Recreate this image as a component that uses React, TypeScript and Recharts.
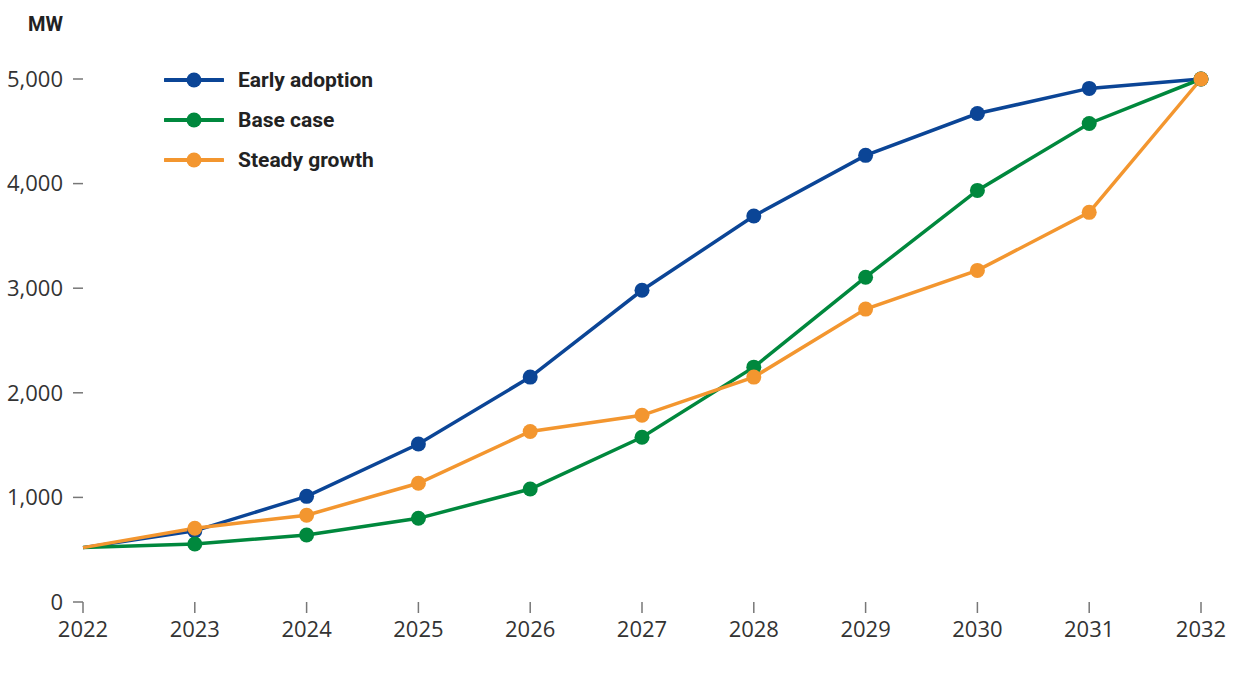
import React from 'react';
import { LineChart, Line, XAxis, YAxis } from 'recharts';

const YEARS = ['2022', '2023', '2024', '2025', '2026', '2027', '2028', '2029', '2030', '2031', '2032'];
const EARLY_ADOPTION = [520, 680, 1010, 1510, 2150, 2980, 3690, 4270, 4670, 4910, 5000];
const BASE_CASE = [520, 555, 640, 800, 1080, 1575, 2245, 3105, 3935, 4575, 5000];
const STEADY_GROWTH = [520, 705, 830, 1135, 1630, 1785, 2150, 2800, 3170, 3725, 5000];
const Y_TICKS = [0, 1000, 2000, 3000, 4000, 5000];

const SERIES = [
  { key: 'early', name: 'Early adoption', color: '#0b4596', values: EARLY_ADOPTION },
  { key: 'base', name: 'Base case', color: '#00883d', values: BASE_CASE },
  { key: 'steady', name: 'Steady growth', color: '#f3962f', values: STEADY_GROWTH },
];

const data = YEARS.map((year, i) => ({
  year,
  early: EARLY_ADOPTION[i],
  base: BASE_CASE[i],
  steady: STEADY_GROWTH[i],
}));

const TICK_FONT = { fontFamily: 'Open Sans', fontSize: 22, fill: '#333' };

// skip the marker at the first year, like the original
const makeDot = (color: string) => (props: any) => {
  const { cx, cy, index } = props;
  if (index === 0 || cx == null || cy == null) return <g key={`d-${index}`} />;
  return <circle key={`d-${index}`} cx={cx} cy={cy} r={7.5} fill={color} stroke="none" />;
};

const ChartLegend = () => (
  <div
    style={{
      position: 'absolute',
      left: 164,
      top: 60,
      fontFamily: 'Roboto',
      fontWeight: 700,
      fontSize: 21,
      color: '#222',
    }}
  >
    {SERIES.map((s) => (
      <div key={s.key} style={{ display: 'flex', alignItems: 'center', height: 40 }}>
        <svg width={60} height={16} style={{ marginRight: 14 }}>
          <line x1={1} y1={8} x2={59} y2={8} stroke={s.color} strokeWidth={4} strokeLinecap="round" />
          <circle cx={30} cy={8} r={7.5} fill={s.color} />
        </svg>
        <span>{s.name}</span>
      </div>
    ))}
  </div>
);

const App: React.FC = () => {
  return (
    <div style={{ position: 'absolute', left: 0, top: 0, width: 1237, height: 673, background: '#fff' }}>
      <LineChart width={1237} height={673} data={data} margin={{ top: 79, right: 36, bottom: 41, left: 0 }}>
        <XAxis
          dataKey="year"
          height={30}
          axisLine={false}
          tickLine={{ stroke: '#777', strokeWidth: 1.5 }}
          tickSize={11}
          tickMargin={8}
          tick={TICK_FONT}
          interval={0}
        />
        <YAxis
          domain={[0, 5000]}
          ticks={Y_TICKS}
          width={83}
          axisLine={false}
          tickLine={{ stroke: '#777', strokeWidth: 1.5 }}
          tickSize={10}
          tickMargin={10}
          tick={TICK_FONT}
          tickFormatter={(v: number) => v.toLocaleString('en-US')}
        />
        {SERIES.map((s) => (
          <Line
            key={s.key}
            dataKey={s.key}
            name={s.name}
            type="linear"
            stroke={s.color}
            strokeWidth={3.5}
            dot={makeDot(s.color)}
            activeDot={false}
            isAnimationActive={false}
          />
        ))}
      </LineChart>
      <div
        style={{
          position: 'absolute',
          left: 28,
          top: 12,
          fontFamily: 'Roboto',
          fontWeight: 700,
          fontSize: 20,
          color: '#222',
        }}
      >
        MW
      </div>
      <ChartLegend />
    </div>
  );
};

export default App;
